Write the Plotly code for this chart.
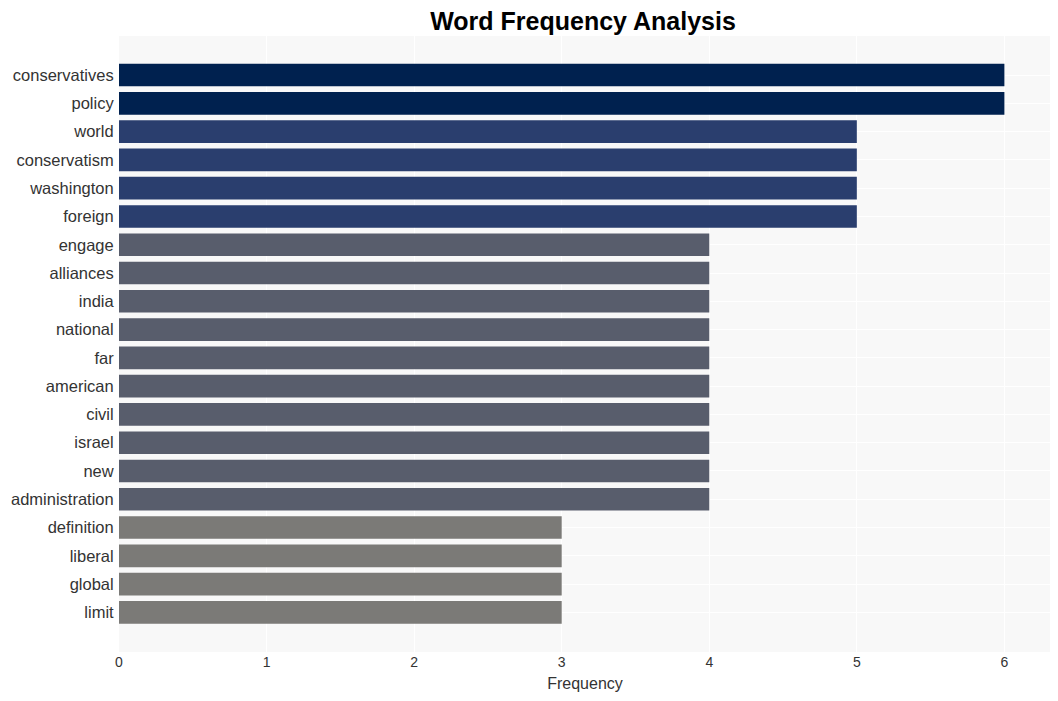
import plotly.graph_objects as go

words = ["conservatives", "policy", "world", "conservatism", "washington", "foreign",
         "engage", "alliances", "india", "national", "far", "american", "civil",
         "israel", "new", "administration", "definition", "liberal", "global", "limit"]
counts = [6, 6, 5, 5, 5, 5, 4, 4, 4, 4, 4, 4, 4, 4, 4, 4, 3, 3, 3, 3]

shade = {6: "#00214f", 5: "#2a3e6e", 4: "#585d6c", 3: "#7b7a77"}
bar_colors = [shade[c] for c in counts]

fig = go.Figure(go.Bar(
    x=counts, y=words, orientation="h",
    marker=dict(color=bar_colors, line=dict(width=0)),
))

# page body adds an 8px offset, margins account for it
fig.update_layout(
    width=1058, height=701,
    title=dict(text="<b>Word Frequency Analysis</b>", x=0.5435, xanchor="center",
               y=0.981, yanchor="middle",
               font=dict(family="Liberation Sans, Arial", size=25, color="#000")),
    font=dict(family="Liberation Sans, Arial", color="#333"),
    paper_bgcolor="white", plot_bgcolor="#f8f8f8",
    margin=dict(l=111, r=15, t=28, b=57),
    bargap=0.2,
    showlegend=False,
)
fig.update_xaxes(title=dict(text="Frequency", font=dict(size=16), standoff=8),
                 tickfont=dict(size=14), gridcolor="white", zeroline=False,
                 dtick=1, automargin=False)
fig.update_yaxes(range=[20.4, -1.38], tickfont=dict(size=16.5),
                 gridcolor="white", ticks="outside", ticklen=1, tickcolor="white",
                 automargin=False)

fig.write_html("out.html")
